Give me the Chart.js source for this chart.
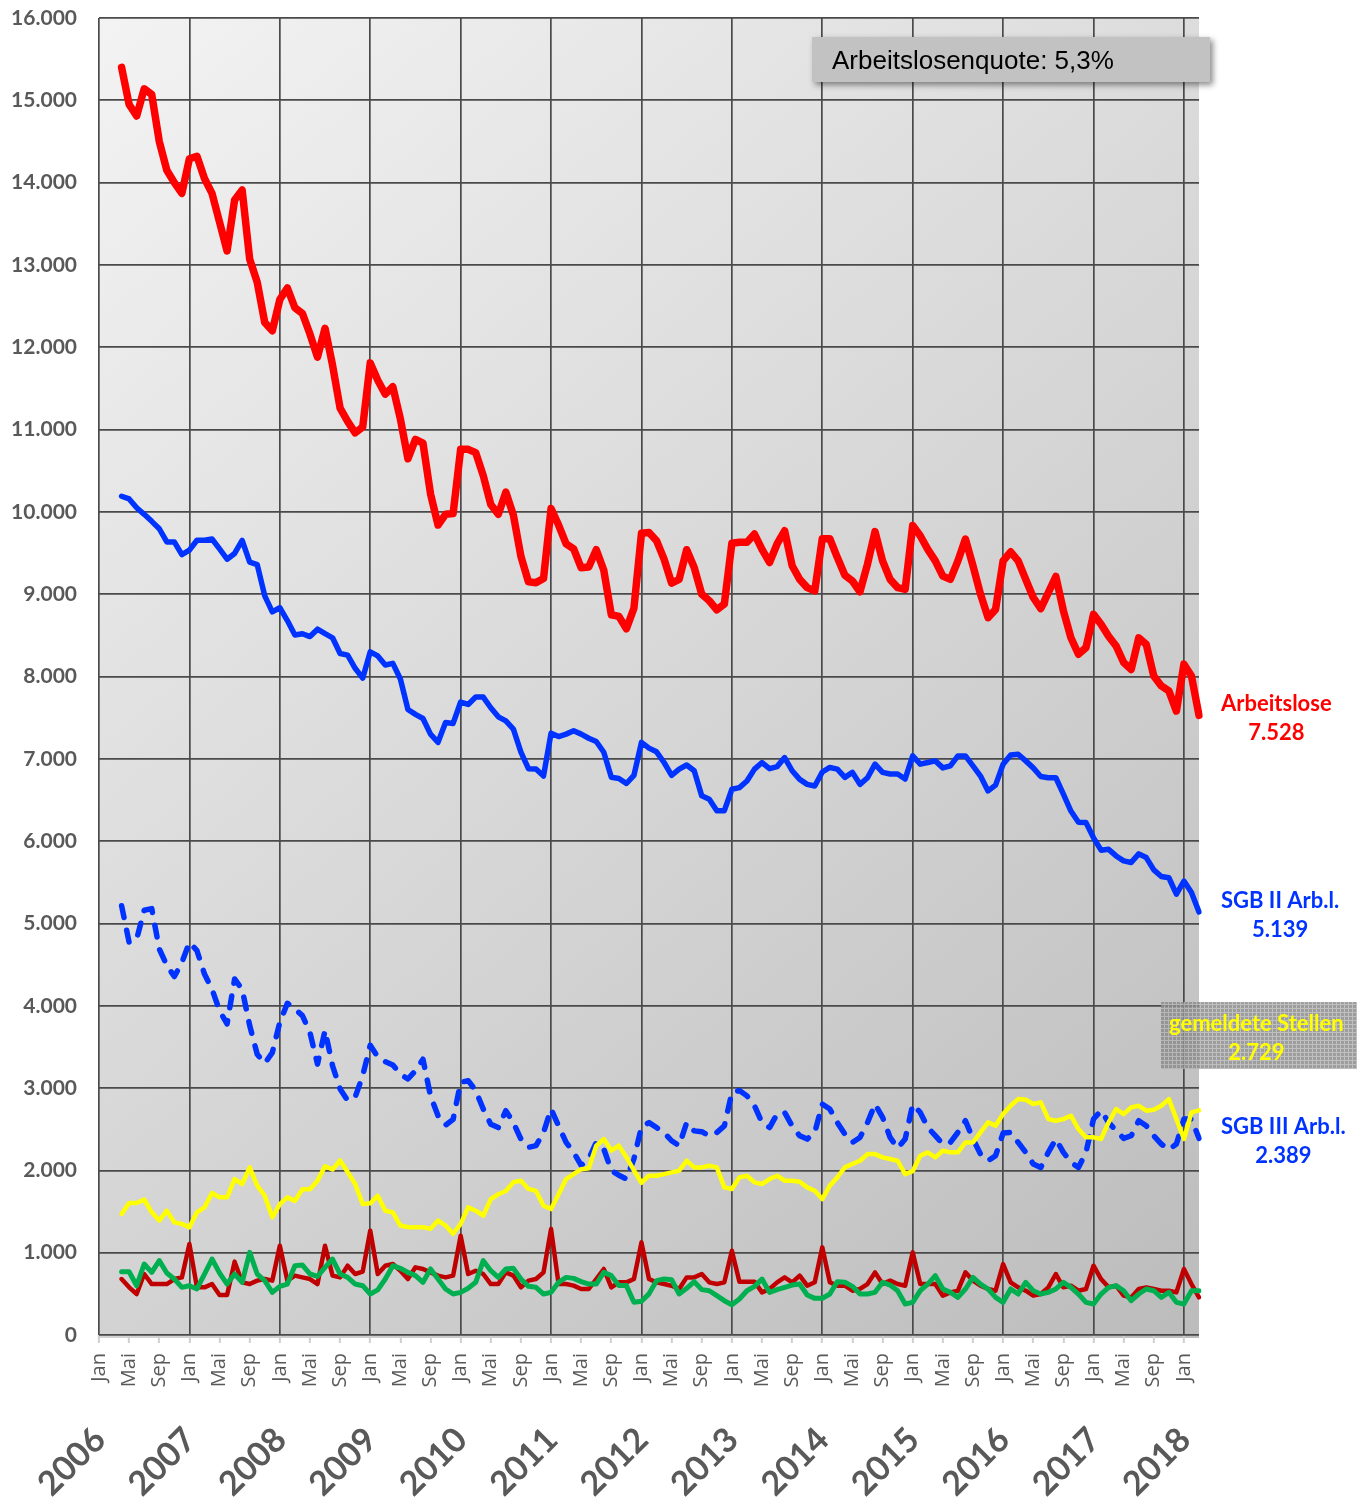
<!DOCTYPE html>
<html><head><meta charset="utf-8">
<script src="https://cdn.jsdelivr.net/npm/chart.js@4.4.1/dist/chart.umd.min.js"></script>
<style>html,body{margin:0;padding:0;background:#fff;}canvas{display:block;}</style>
</head><body>
<canvas id="c" width="1359" height="1497"></canvas>
<script>
// ---- categories / tick labels ----
const monthNames = ['Jan','Feb','Mrz','Apr','Mai','Jun','Jul','Aug','Sep','Okt','Nov','Dez'];
const years = [2006,2007,2008,2009,2010,2011,2012,2013,2014,2015,2016,2017,2018];
const monthsIn2018 = 3;             // data runs until März 2018
const firstDataIndex = 3;           // first value: April 2006
const quoteText = 'Arbeitslosenquote: 5,3%';

// ---- series values (April 2006 .. März 2018), monthly ----
const arbeitslose = [15400,14950,14810,15140,15070,14500,14150,14000,13870,
14290,14320,14050,13870,13520,13170,13790,13910,13070,12790,12300,12200,
12580,12720,12480,12410,12160,11880,12230,11780,11260,11100,10960,11030,
11810,11600,11430,11520,11130,10645,10880,10835,10220,9840,9970,9980,
10760,10760,10720,10440,10090,9970,10240,9960,9460,9150,9140,9190,
10040,9840,9610,9550,9320,9330,9540,9290,8750,8730,8580,8830,
9740,9750,9650,9425,9135,9180,9540,9325,9000,8920,8810,8880,
9620,9630,9630,9730,9545,9385,9610,9770,9345,9180,9080,9040,
9675,9675,9445,9230,9160,9030,9365,9760,9405,9180,9080,9060,
9835,9710,9545,9405,9220,9180,9405,9670,9345,9000,8715,8815,
9405,9515,9405,9180,8960,8825,9020,9215,8800,8470,8270,8350,
8755,8635,8490,8370,8170,8085,8470,8390,8005,7885,7825,7580,
8150,8005,7528];

const sgb2 = [10190,10157,10050,9970,9885,9795,9635,9635,9480,
9535,9655,9655,9670,9550,9425,9495,9655,9390,9360,8980,8785,
8835,8680,8505,8520,8485,8575,8520,8470,8280,8260,8100,7980,
8300,8250,8140,8160,7970,7600,7540,7490,7300,7200,7440,7430,
7690,7660,7750,7750,7620,7510,7460,7360,7080,6880,6875,6790,
7310,7270,7300,7340,7300,7250,7210,7080,6775,6760,6700,6800,
7200,7130,7085,6955,6800,6875,6925,6855,6550,6510,6370,6370,
6630,6650,6730,6875,6955,6880,6905,7015,6855,6750,6690,6670,
6840,6895,6875,6775,6835,6690,6770,6935,6835,6815,6815,6755,
7035,6935,6955,6975,6890,6915,7035,7035,6915,6790,6610,6680,
6935,7045,7055,6975,6890,6785,6770,6770,6570,6365,6230,6225,
6040,5890,5900,5820,5760,5740,5845,5800,5650,5570,5555,5355,
5515,5375,5139];

const sgb3 = [5215,4770,4810,5160,5180,4690,4490,4355,4525,
4770,4670,4385,4200,3940,3780,4325,4200,3760,3410,3300,3430,
3800,4030,3960,3880,3675,3290,3700,3270,2990,2850,2890,3150,
3520,3380,3320,3280,3170,3110,3210,3350,2905,2665,2550,2620,
3070,3090,2970,2745,2560,2520,2725,2580,2380,2280,2300,2460,
2745,2540,2340,2220,2060,2140,2340,2260,2000,1940,1895,2140,
2530,2580,2520,2460,2360,2300,2580,2480,2470,2420,2460,2540,
2945,2970,2905,2785,2580,2520,2685,2705,2540,2420,2380,2460,
2805,2745,2580,2440,2340,2400,2580,2805,2645,2400,2270,2380,
2800,2704,2522,2421,2320,2340,2462,2603,2381,2198,2117,2178,
2453,2462,2340,2219,2077,2036,2219,2381,2219,2097,2036,2219,
2624,2725,2583,2482,2389,2421,2603,2543,2421,2320,2251,2320,
2624,2624,2389];

const stellen = [1470,1603,1603,1644,1490,1390,1510,1368,1350,
1308,1490,1550,1725,1672,1672,1895,1834,2036,1814,1692,1430,
1590,1672,1630,1770,1770,1875,2050,2010,2120,1980,1834,1590,
1600,1690,1510,1490,1330,1310,1310,1310,1290,1390,1330,1230,
1350,1550,1510,1450,1650,1710,1750,1855,1875,1775,1750,1570,
1530,1710,1895,1955,2015,2025,2300,2380,2240,2300,2160,2000,
1850,1935,1935,1955,1976,1996,2117,2036,2036,2057,2036,1794,
1773,1915,1935,1854,1834,1895,1935,1874,1874,1862,1794,1753,
1652,1814,1915,2036,2077,2117,2198,2198,2158,2138,2117,1955,
1990,2178,2219,2158,2239,2219,2219,2340,2340,2462,2583,2543,
2684,2785,2866,2858,2806,2826,2623,2603,2623,2664,2502,2401,
2401,2381,2583,2745,2684,2765,2785,2725,2737,2785,2866,2623,
2381,2704,2729];

const zugaenge = [680,579,498,741,619,619,619,680,700,
1105,579,579,619,486,486,891,640,619,660,680,660,
1085,660,721,700,680,619,1085,721,700,842,741,769,
1267,741,842,862,781,680,822,802,761,721,700,721,
1206,741,781,741,619,619,761,721,579,660,680,761,
1287,619,619,600,559,559,680,802,579,640,640,680,
1125,680,640,619,599,559,700,700,741,640,619,640,
1024,648,648,648,518,559,640,700,640,721,599,640,
1065,640,599,599,538,559,619,761,619,660,619,599,
1004,619,619,619,478,518,538,761,660,599,559,538,
862,640,579,538,478,498,579,741,579,599,538,559,
842,680,579,599,478,457,559,579,559,538,538,518,
802,619,457];

const abgaenge = [769,769,599,862,761,903,753,680,579,
599,559,741,923,753,619,741,640,1004,741,660,518,
591,619,842,850,741,713,822,923,741,700,619,599,
498,548,680,842,810,761,721,640,802,680,559,498,
518,567,640,903,781,700,802,810,680,591,579,498,
518,640,700,688,648,619,619,761,721,600,600,397,
410,500,660,680,672,498,567,648,551,538,478,417,
368,437,538,591,680,518,551,579,607,619,486,445,
445,498,648,640,591,498,498,518,640,607,538,377,
397,538,619,721,559,518,457,559,700,619,559,457,
397,559,498,640,538,498,518,559,640,579,498,397,
377,498,579,599,538,417,498,559,538,457,518,397,
377,538,538];

// ---- build category list (Jan 2006 .. März 2018) ----
const categories = [];
years.forEach(y => monthNames.forEach((m, mi) => {
  if (y < 2018 || mi < monthsIn2018) categories.push(m);
}));
const monthLabels = categories;
const pad = arr => Array(firstDataIndex).fill(null).concat(arr);
const fmt = v => String(Math.round(v)).replace(/\B(?=(\d{3})+(?!\d))/g, '.');

const bgPlugin = {
  id: 'bg',
  beforeDraw(chart) {
    const {ctx, chartArea: a} = chart;
    const g = ctx.createLinearGradient(a.left, a.top, a.right, a.bottom);
    g.addColorStop(0, '#f3f3f3');
    g.addColorStop(1, '#bcbcbc');
    ctx.save();
    ctx.fillStyle = g;
    ctx.fillRect(a.left, a.top, a.right - a.left, a.bottom - a.top + 3);
    ctx.restore();
  }
};

function makePattern(ctx) {
  const p = document.createElement('canvas');
  p.width = 4; p.height = 4;
  const pc = p.getContext('2d');
  pc.fillStyle = '#8c8c8c'; pc.fillRect(0, 0, 4, 4);
  pc.fillStyle = '#b4b4b4'; pc.fillRect(0, 0, 4, 1); pc.fillRect(0, 0, 1, 4);
  return ctx.createPattern(p, 'repeat');
}

const overlayPlugin = {
  id: 'overlay',
  afterDraw(chart) {
    const {ctx, chartArea: a, scales: {x, y}} = chart;
    ctx.save();
    // year labels
    ctx.fillStyle = '#595959';
    ctx.font = 'bold 34px Lato';
    ctx.textAlign = 'center';
    ctx.textBaseline = 'middle';
    years.forEach((yr, k) => {
      const px = x.getPixelForValue(k * 12);
      ctx.save();
      ctx.translate(px - 27, a.bottom + 127);
      ctx.rotate(-Math.PI / 4);
      ctx.fillText(String(yr), 0, 0);
      ctx.restore();
    });
    // quote box
    const bx = a.right - 387, by = a.top + 19, bw = 398, bh = 45;
    ctx.save();
    ctx.shadowColor = 'rgba(0,0,0,0.45)';
    ctx.shadowBlur = 6; ctx.shadowOffsetX = 3; ctx.shadowOffsetY = 3;
    ctx.fillStyle = '#c2c2c2';
    ctx.fillRect(bx, by, bw, bh);
    ctx.restore();
    ctx.fillStyle = '#000';
    ctx.font = '26px "Liberation Sans"';
    ctx.textAlign = 'left';
    ctx.textBaseline = 'middle';
    ctx.fillText(quoteText, bx + 20, by + 25);

    // right-hand labels
    const drawPair = (l1, l2, color, left, cy) => {
      ctx.font = 'bold 22px Lato';
      ctx.fillStyle = color;
      ctx.textAlign = 'center';
      ctx.textBaseline = 'middle';
      const w = ctx.measureText(l1).width;
      ctx.fillText(l1, left + w / 2, cy - 11);
      ctx.fillText(l2, left + w / 2, cy + 18);
    };
    const last = arr => arr[arr.length - 1];
    const lx = a.right + 22;
    drawPair('Arbeitslose', fmt(last(arbeitslose)), '#ff0000', lx, y.getPixelForValue(last(arbeitslose)));
    drawPair('SGB II Arb.l.', fmt(last(sgb2)), '#0033ff', lx, y.getPixelForValue(last(sgb2)));
    drawPair('SGB III Arb.l.', fmt(last(sgb3)), '#0033ff', lx, y.getPixelForValue(last(sgb3)));
    // gemeldete Stellen box
    const gy = y.getPixelForValue(3620);
    ctx.globalAlpha = 0.85;
    ctx.fillStyle = makePattern(ctx);
    ctx.fillRect(a.right - 38, gy - 35, 196, 67);
    ctx.globalAlpha = 1;
    drawPair('gemeldete Stellen', fmt(last(stellen)), '#ffff00', a.right - 30, gy - 2);
    ctx.restore();
  }
};

const ds = (label, data, color, width, order, extra) => Object.assign({
  label, data: pad(data), borderColor: color, backgroundColor: color,
  borderWidth: width, pointRadius: 0, tension: 0, fill: false, order,
  borderJoinStyle: 'round', borderCapStyle: 'round'
}, extra || {});

new Chart(document.getElementById('c'), {
  type: 'line',
  data: {
    labels: monthLabels,
    datasets: [
      ds('Arbeitslose', arbeitslose, '#ff0000', 7.5, 0),
      ds('SGB II Arb.l.', sgb2, '#0033ff', 5.5, 1),
      ds('Abgänge', abgaenge, '#00b050', 5, 2),
      ds('Zugänge', zugaenge, '#c00000', 4.5, 3),
      ds('gemeldete Stellen', stellen, '#ffff00', 4.5, 4),
      ds('SGB III Arb.l.', sgb3, '#0033ff', 5.5, 5, {borderDash: [12, 13]})
    ]
  },
  options: {
    responsive: false,
    animation: false,
    layout: {padding: {top: 18, right: 160, left: 0, bottom: 0}},
    plugins: {legend: {display: false}, tooltip: {enabled: false}},
    scales: {
      x: {
        type: 'category',
        offset: false,
        border: {display: false},
        grid: {
          color: c => (c.index % 12 === 0 ? '#4a4a4a' : 'rgba(0,0,0,0)'),
          lineWidth: 1.7,
          tickLength: 8,
          tickWidth: 2,
          tickColor: c => (c.index % 4 === 0 ? '#cfcfcf' : 'rgba(0,0,0,0)')
        },
        ticks: {
          autoSkip: false, maxRotation: 90, minRotation: 90, padding: 10,
          color: '#595959', font: {family: 'Open Sans', size: 20},
          callback: (v, i) => (i % 4 === 0 ? monthLabels[i] : '')
        },
        afterFit: s => { s.height = 162; }
      },
      y: {
        min: 0, max: 16000,
        border: {display: false},
        grid: {color: '#4a4a4a', lineWidth: 1.7, drawTicks: false},
        ticks: {
          stepSize: 1000, padding: 22, color: '#595959',
          font: {family: 'Lato', size: 21, weight: 'bold'},
          callback: v => fmt(v)
        },
        afterFit: s => { s.width = 99; s.paddingTop = 0; s.paddingBottom = 0; }
      }
    }
  },
  plugins: [bgPlugin, overlayPlugin]
});
</script>
</body></html>
